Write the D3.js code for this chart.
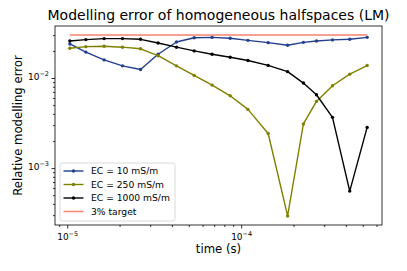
<!DOCTYPE html>
<html>
<head>
<meta charset="utf-8">
<script src="https://cdn.jsdelivr.net/npm/d3@7"></script>
<style>
  body { margin: 0; background: #fff; }
  svg { font-family: "DejaVu Sans", sans-serif; }
</style>
</head>
<body>
<div id="chart"></div>
<script>
// Chart size and axes box
const width = 407;
const height = 271;
const margin = { top: 26, right: 25, bottom: 46, left: 55 };

// Gate times (s)
const times = [1.036e-5, 1.28e-5, 1.63e-5, 2.08e-5, 2.64e-5, 3.33e-5, 4.25e-5, 5.37e-5, 6.81e-5,
    8.65e-5, 1.094e-4, 1.43e-4, 1.85e-4, 2.28e-4, 2.71e-4, 3.35e-4, 4.21e-4, 5.30e-4];

// Relative modelling error per conductivity
const ec10 = [0.0239, 0.0194, 0.0159, 0.01364, 0.01242, 0.01837, 0.0251, 0.0280, 0.0283,
    0.0276, 0.0262, 0.0247, 0.0231, 0.0249, 0.0258, 0.0265, 0.0269, 0.0283];
const ec250 = [0.0214, 0.0223, 0.0225, 0.0220, 0.0211, 0.0177, 0.01364, 0.01067, 0.00834,
    0.00635, 0.00448, 0.00242, 0.000294, 0.00309, 0.00550, 0.00820, 0.01104, 0.01375];
const ec1000 = [0.0258, 0.0267, 0.0274, 0.0274, 0.0269, 0.0245, 0.0220, 0.0200, 0.01837,
    0.01702, 0.01563, 0.01381, 0.01177, 0.00879, 0.00652, 0.00366, 0.000555, 0.00283];
const target = 0.03;

const seriesList = [
    { label: 'EC = 10 mS/m', values: ec10, color: '#223f8e' },
    { label: 'EC = 250 mS/m', values: ec250, color: '#808000' },
    { label: 'EC = 1000 mS/m', values: ec1000, color: '#000000' }
];

const x0 = margin.left, x1 = width - margin.right;
const y0 = margin.top, y1 = height - margin.bottom;

// log domain with 5% padding like matplotlib
function padLog(lo, hi) {
    const a = Math.log10(lo), b = Math.log10(hi), r = b - a;
    return [Math.pow(10, a - 0.05 * r), Math.pow(10, b + 0.05 * r)];
}
const allVals = ec10.concat(ec250, ec1000, [target]);

const xScale = d3.scaleLog()
    .domain(padLog(d3.min(times), d3.max(times)))
    .range([x0, x1]);
const yScale = d3.scaleLog()
    .domain(padLog(d3.min(allVals), d3.max(allVals)))
    .range([y1, y0]);

const svg = d3.select('#chart')
    .append('svg')
    .attr('width', width)
    .attr('height', height);

svg.append('rect').attr('width', width).attr('height', height).attr('fill', '#fff');

// ticks: major at decades, minor at 2..9
function logTicks(scale) {
    const [lo, hi] = scale.domain();
    const major = [], minor = [];
    for (let e = Math.floor(Math.log10(lo)); e <= Math.ceil(Math.log10(hi)); e++) {
        for (let m = 1; m < 10; m++) {
            const v = m * Math.pow(10, e);
            if (v < lo || v > hi) continue;
            (m === 1 ? major : minor).push(v);
        }
    }
    return { major, minor };
}
const supFormat = v => Math.round(Math.log10(v));

function addExpLabel(sel) {
    sel.text('');
    sel.append('tspan').text('10');
    sel.append('tspan')
        .attr('font-size', '6.5px')
        .attr('dy', '-4.5')
        .text(d => '\u2212' + Math.abs(supFormat(d)));
}

// x axis
const xt = logTicks(xScale);
const xAxisMajor = d3.axisBottom(xScale).tickValues(xt.major).tickSize(3.5).tickSizeOuter(0).tickPadding(2.5);
const gx = svg.append('g')
    .attr('transform', `translate(0, ${y1})`)
    .call(xAxisMajor);
gx.select('.domain').remove();
gx.selectAll('text')
    .attr('font-size', '9px')
    .attr('font-family', '"DejaVu Sans", sans-serif')
    .attr('fill', '#000')
    .attr('dy', '1.05em')
    .each(function () { addExpLabel(d3.select(this)); });
const gxMinor = svg.append('g')
    .attr('transform', `translate(0, ${y1})`)
    .call(d3.axisBottom(xScale).tickValues(xt.minor).tickSize(2).tickFormat(''));
gxMinor.select('.domain').remove();

// y axis
const yt = logTicks(yScale);
const gy = svg.append('g')
    .attr('transform', `translate(${x0}, 0)`)
    .call(d3.axisLeft(yScale).tickValues(yt.major).tickSize(3.5).tickPadding(2.5));
gy.select('.domain').remove();
gy.selectAll('text')
    .attr('font-size', '9px')
    .attr('font-family', '"DejaVu Sans", sans-serif')
    .attr('fill', '#000')
    .each(function () { addExpLabel(d3.select(this)); });
gy.selectAll('text tspan:first-child').attr('dy', '0.2em');
const gyMinor = svg.append('g')
    .attr('transform', `translate(${x0}, 0)`)
    .call(d3.axisLeft(yScale).tickValues(yt.minor).tickSize(2).tickFormat(''));
gyMinor.select('.domain').remove();
svg.selectAll('.tick line').attr('stroke', '#000').attr('stroke-width', 0.8);

// target line
svg.append('line')
    .attr('x1', xScale(times[0]))
    .attr('x2', xScale(times[times.length - 1]))
    .attr('y1', yScale(target))
    .attr('y2', yScale(target))
    .attr('stroke', '#f7806f')
    .attr('stroke-width', 1.5);

// series lines and markers
const line = d3.line()
    .x((d, i) => xScale(times[i]))
    .y(d => yScale(d));

seriesList.forEach(s => {
    svg.append('path')
        .datum(s.values)
        .attr('fill', 'none')
        .attr('stroke', s.color)
        .attr('stroke-width', 1.4)
        .attr('stroke-linejoin', 'round')
        .attr('d', line);
    svg.selectAll(null)
        .data(s.values)
        .enter()
        .append('circle')
        .attr('cx', (d, i) => xScale(times[i]))
        .attr('cy', d => yScale(d))
        .attr('r', 1.7)
        .attr('fill', s.color);
});

// axes frame
svg.append('rect')
    .attr('x', x0).attr('y', y0)
    .attr('width', x1 - x0).attr('height', y1 - y0)
    .attr('fill', 'none')
    .attr('stroke', '#000')
    .attr('stroke-width', 0.8);

// title and labels
svg.append('text')
    .attr('x', (x0 + x1) / 2)
    .attr('y', 20)
    .attr('text-anchor', 'middle')
    .attr('font-size', '14px')
    .text('Modelling error of homogeneous halfspaces (LM)');

svg.append('text')
    .attr('x', (x0 + x1) / 2)
    .attr('y', 253)
    .attr('text-anchor', 'middle')
    .attr('font-size', '11.7px')
    .text('time (s)');

svg.append('text')
    .attr('transform', 'rotate(-90)')
    .attr('x', -(y0 + y1) / 2)
    .attr('y', 22)
    .attr('text-anchor', 'middle')
    .attr('font-size', '11.7px')
    .text('Relative modelling error');

// legend
const legendItems = seriesList.map(s => ({ label: s.label, color: s.color, marker: true }))
    .concat([{ label: '3% target', color: '#f7806f', marker: false }]);
const legendX = 60, legendY = 163, rowH = 13.5;

svg.append('rect')
    .attr('x', legendX).attr('y', legendY)
    .attr('width', 115).attr('height', 58)
    .attr('rx', 2)
    .attr('fill', '#fff')
    .attr('fill-opacity', 0.8)
    .attr('stroke', '#d0d0d0')
    .attr('stroke-width', 0.8);

const legend = svg.selectAll('.legend')
    .data(legendItems)
    .enter()
    .append('g')
    .attr('class', 'legend')
    .attr('transform', (d, i) => `translate(${legendX}, ${legendY + 8 + i * rowH})`);

legend.append('line')
    .attr('x1', 3.5).attr('x2', 23.5)
    .attr('stroke', d => d.color)
    .attr('stroke-width', d => d.marker ? 1.4 : 1.5);
legend.filter(d => d.marker)
    .append('circle')
    .attr('cx', 13.5)
    .attr('r', 1.7)
    .attr('fill', d => d.color);
legend.append('text')
    .attr('x', 31)
    .attr('y', 3.3)
    .attr('font-size', '9.2px')
    .text(d => d.label);
</script>
</body>
</html>
